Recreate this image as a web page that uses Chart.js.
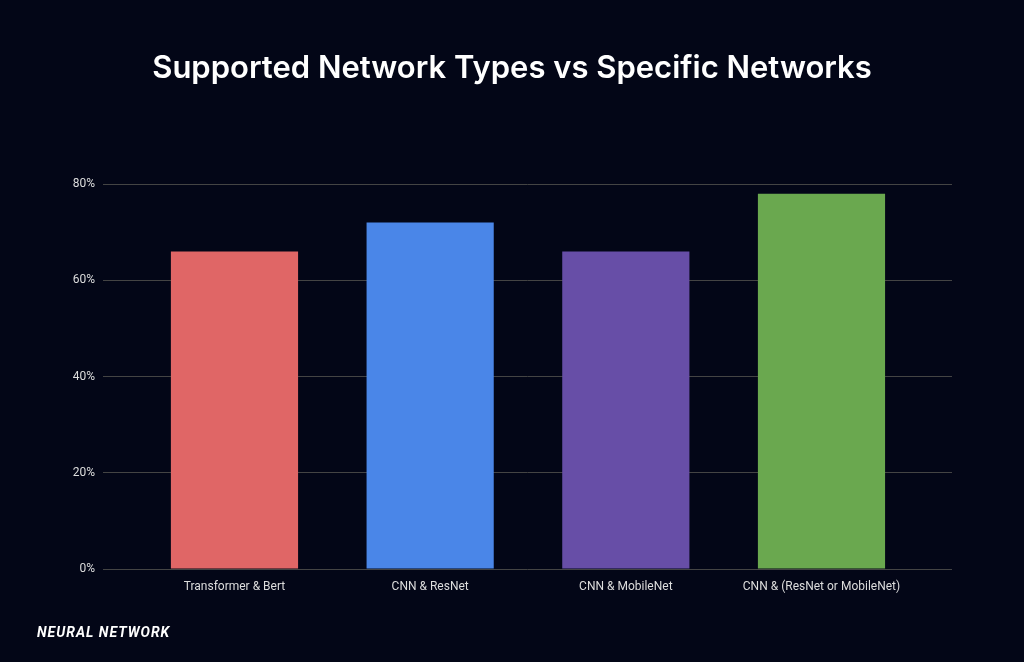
<!DOCTYPE html>
<html>
<head>
<meta charset="utf-8">
<script src="https://cdn.jsdelivr.net/npm/chart.js@4"></script>
<style>
  html, body { margin: 0; padding: 0; background: #030617; }
  #wrap { position: relative; width: 1024px; height: 662px; }
  #title { position: absolute; left: 0; top: 48px; width: 1024px; text-align: center;
           color: #fff; font-family: Inter, sans-serif; font-weight: 600; font-size: 31px; }
  #logo { position: absolute; left: 37px; top: 624px; color: #fff; font-family: Roboto, sans-serif;
          font-style: italic; font-weight: 700; font-size: 14px; letter-spacing: 1px; }
</style>
</head>
<body>
<div id="wrap">
  <canvas id="chart" width="1024" height="662"></canvas>
  <div id="title">Supported Network Types vs Specific Networks</div>
  <div id="logo">NEURAL NETWORK</div>
</div>
<script>
var categories = ["Transformer & Bert", "CNN & ResNet", "CNN & MobileNet", "CNN & (ResNet or MobileNet)"];
var values = [66, 72, 66, 78];
var barColors = ["#e06666", "#4a86e8", "#674ea7", "#6aa84f"];
var yTicks = [0, 20, 40, 60, 80];

var tickFont = { family: "Roboto", size: 12 };

// x positions are category indexes on a linear axis so the bars can sit inset from the grid ends
var points = values.map(function(v, i) { return { x: i, y: v }; });

new Chart(document.getElementById("chart").getContext("2d"), {
  type: "bar",
  data: {
    datasets: [{
      data: points,
      backgroundColor: barColors,
      borderWidth: 0,
      barPercentage: 0.65,
      categoryPercentage: 1
    }]
  },
  options: {
    responsive: false,
    animation: false,
    layout: { padding: { left: 0, right: 72, top: 184, bottom: 0 } },
    plugins: { legend: { display: false }, tooltip: { enabled: false } },
    scales: {
      y: {
        min: 0,
        max: 80,
        afterFit: function(s) { s.width = 103; },
        afterBuildTicks: function(s) { s.ticks = yTicks.map(function(v) { return { value: v }; }); },
        border: { display: false },
        grid: { color: "#444", drawTicks: false },
        ticks: { color: "#ddd", font: tickFont, padding: 8, callback: function(v) { return v + "%"; } }
      },
      x: {
        type: "linear",
        offset: false,
        min: -0.672,
        max: 3.667,
        afterFit: function(s) { s.height = 93; },
        afterBuildTicks: function(s) { s.ticks = categories.map(function(c, i) { return { value: i }; }); },
        border: { display: false },
        grid: { display: false },
        ticks: { color: "#ddd", font: tickFont, padding: 3, autoSkip: false, maxRotation: 0,
                 callback: function(v) { return categories[v]; } }
      }
    }
  }
});
</script>
</body>
</html>
